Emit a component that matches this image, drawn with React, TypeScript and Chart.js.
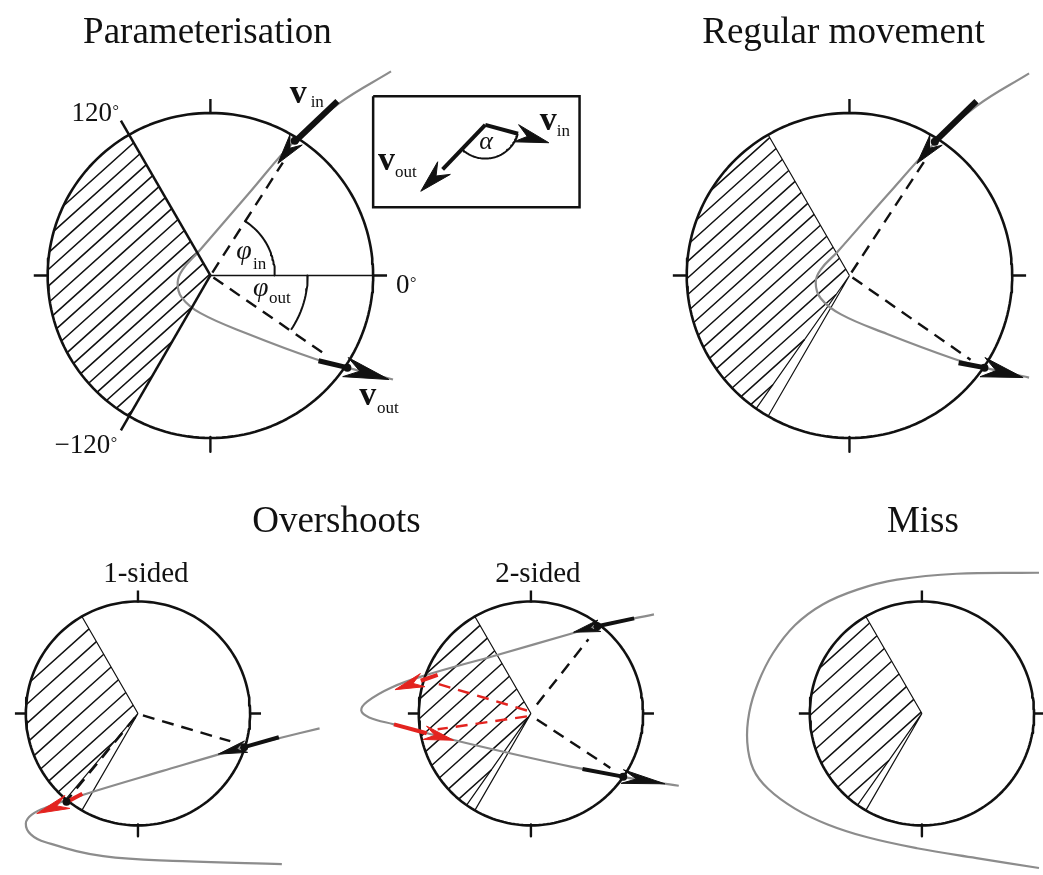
import React, { useEffect, useRef } from "react";
import { Chart, registerables } from "chart.js";

Chart.register(...registerables);

type P = [number, number];

const W = 1043;
const H = 875;
const FONT = '"Liberation Serif", "Times New Roman", Times, serif';
const INK = "#111111";
const GREY = "#8c8c8c";
const RED = "#e3231f";

// ---- circles (panel order: Parameterisation, Regular movement, 1-sided, 2-sided, Miss)
const CIRCLE_CX = [208, 852, 135, 531, 925];
const CIRCLE_CY = [274, 274, 716, 716, 716];
const CIRCLE_R = [164, 164, 113, 113, 113];
const TICK_LEN = [14, 14, 11, 11, 11];
const HATCH_FROM = [120, 120, 120, 120, 120];
const HATCH_TO = [240, 235, 230, 235, 235];
const EDGE_ANGLES: number[][] = [[], [120, 235, 240], [120, 230, 240], [120, 235, 240], [120, 235, 240]];
const HATCH_ANGLE = 42;
const HATCH_SPACING = [12.5, 12.5, 14.5, 14.5, 14.5];
const HATCH_WIDTH = [1.6, 1.5, 1.5, 1.5, 1.5];

// ---- trajectories (grey)
const PATH_PARAM: P[] = [[390, 68], [338, 100], [293, 138], [246, 192], [196, 250], [180, 268], [175, 281], [179, 296], [198, 312], [246, 333], [313, 358], [346, 367], [392, 379]];
const PATH_REGULAR: P[] = [[1033, 70], [980, 103], [939, 139], [890, 193], [840, 250], [823, 268], [818, 281], [823, 297], [843, 313], [890, 333], [957, 358], [988, 367], [1033, 377]];
const PATH_ONE_SIDED: P[] = [[318, 731], [277, 741], [242, 750], [160, 774], [80, 798], [45, 810], [28, 818], [22, 827], [27, 838], [42, 846], [100, 860], [180, 865], [280, 868]];
const PATH_TWO_SIDED: P[] = [[655, 616], [597, 628], [573, 635], [497, 657], [423, 678], [390, 690], [366, 704], [360, 713], [368, 720], [393, 727], [450, 742], [540, 763], [583, 772], [623, 780], [680, 789]];
const PATH_MISS: P[] = [[1043, 574], [960, 575], [900, 581], [860, 591], [825, 606], [797, 627], [775, 655], [760, 685], [751, 715], [749, 745], [755, 772], [770, 792], [797, 812], [830, 828], [870, 841], [920, 852], [980, 862], [1043, 872]];

// ---- arrows (shaft start, head base, head tip)
const ARROW_FROM: P[] = [[336, 98], [317, 360], [980, 98], [962, 362], [277, 740], [79, 797], [635, 620], [583, 772], [437, 677], [393, 727], [485, 122], [485, 122]];
const ARROW_BASE: P[] = [[293, 139], [346, 367], [938, 139], [988, 367], [242, 750], [62, 806], [598, 628], [625, 780], [420, 683], [426, 736], [518, 131], [442, 167]];
const ARROW_TIP: P[] = [[276, 161], [388, 379], [920, 161], [1027, 377], [216, 757], [33, 817], [574, 634], [666, 787], [394, 692], [453, 743], [549, 140], [420, 189]];
const ARROW_HALF_W = [8, 10, 8, 10, 6, 7, 6, 7, 7, 7, 9, 9];
const ARROW_SHAFT_W = [6, 5, 6, 5, 4, 4, 4, 4, 4, 4, 4, 4];
const ARROW_IS_RED = [false, false, false, false, false, true, false, false, true, true, false, false];

// ---- crossing dots
const DOT_X = [293, 346, 938, 988, 242, 63, 598, 624];
const DOT_Y = [138, 367, 139, 367, 750, 805, 628, 780];

// ---- dashed radii
const DASH_BLACK: [P, P][] = [
  [[210, 271], [281, 160]], [[211, 276], [327, 356]],
  [[854, 271], [928, 158]], [[855, 276], [974, 359]],
  [[140, 718], [228, 744]], [[132, 720], [64, 803]],
  [[537, 707], [589, 641]], [[537, 722], [611, 771]],
];
const DASH_RED: [P, P][] = [[[527, 713], [437, 686]], [[527, 719], [437, 732]]];

// ---- parameterisation extras
const BOUNDARY_ANGLES = [120, 240];
const BOUNDARY_REACH = 1.1;
const ZERO_LINE: P[] = [[208, 274], [373, 274]];
const PHI_IN_ARC = [65, 0, 58];
const PHI_OUT_ARC = [98, 0, -34];
const INSET_RECT = [372, 93, 580, 205];
const ALPHA_ARC = [485, 122, 34, -16, -135];

// ---- texts
const TITLE_TEXTS = ["Parameterisation", "Regular movement", "Overshoots", "Miss", "1-sided", "2-sided"];
const TITLE_X = [205, 846, 335, 926, 143, 538];
const TITLE_Y = [39, 39, 533, 533, 583, 583];
const TITLE_SIZE = [37, 37, 37, 37, 29, 29];
const DEG_TEXTS = ["120", "\u2212120", "0"];
const DEG_X = [68, 51, 395];
const DEG_Y = [118, 453, 292];
const DEG_SIGN_DY = [-5, -5, -5];
const VEC_SUB = ["in", "out", "in", "out"];
const VEC_X = [288, 358, 540, 377];
const VEC_Y = [100, 405, 127, 168];
const VEC_SUB_X = [309, 376, 557, 394];
const VEC_SUB_Y = [104, 413, 133, 175];
const GREEK_TEXTS = ["\u03C6", "\u03C6", "\u03B1"];
const GREEK_X = [234, 251, 479];
const GREEK_Y = [257, 295, 146];
const GREEK_SIZE = [28, 28, 26];
const GREEK_SUB = ["in", "out", ""];
const GREEK_SUB_X = [251, 267, 0];
const GREEK_SUB_Y = [267, 302, 0];

// ---------------- geometry helpers ----------------
const rad = (d: number) => (d * Math.PI) / 180;
const onCircle = (cx: number, cy: number, r: number, a: number): P => [cx + r * Math.cos(rad(a)), cy - r * Math.sin(rad(a))];
function arc(cx: number, cy: number, r: number, a0: number, a1: number): P[] {
  const n = Math.max(6, Math.ceil(Math.abs(a1 - a0) / 2));
  const out: P[] = [];
  for (let i = 0; i <= n; i++) out.push(onCircle(cx, cy, r, a0 + ((a1 - a0) * i) / n));
  return out;
}
function hatch(poly: P[], angle: number, spacing: number) {
  const t = rad(angle);
  const d: P = [Math.cos(t), -Math.sin(t)];
  const nr: P = [Math.sin(t), Math.cos(t)];
  const s = poly.map((p) => p[0] * nr[0] + p[1] * nr[1]);
  const smin = Math.min(...s), smax = Math.max(...s);
  const out: any[] = [];
  for (let c = Math.ceil(smin / spacing) * spacing + 4; c <= smax; c += spacing) {
    const hits: P[] = [];
    for (let i = 0; i < poly.length; i++) {
      const j = (i + 1) % poly.length;
      if ((s[i] - c) * (s[j] - c) < 0) {
        const f = (c - s[i]) / (s[j] - s[i]);
        hits.push([poly[i][0] + f * (poly[j][0] - poly[i][0]), poly[i][1] + f * (poly[j][1] - poly[i][1])]);
      }
    }
    if (hits.length >= 2) {
      hits.sort((a, b) => a[0] * d[0] + a[1] * d[1] - (b[0] * d[0] + b[1] * d[1]));
      const a = hits[0], b = hits[hits.length - 1];
      out.push({ x: a[0], y: a[1] }, { x: b[0], y: b[1] }, { x: b[0], y: null });
    }
  }
  return out;
}
function head(base: P, tip: P, hw: number): P[] {
  const dx = tip[0] - base[0], dy = tip[1] - base[1];
  const L = Math.hypot(dx, dy);
  const ux = dx / L, uy = dy / L, px = -uy, py = ux;
  return [tip, [base[0] + px * hw - ux * 2, base[1] + py * hw - uy * 2], [base[0] + ux * L * 0.3, base[1] + uy * L * 0.3], [base[0] - px * hw - ux * 2, base[1] - py * hw - uy * 2], tip];
}

function buildDatasets() {
  const layers: any[] = [];
  const pts = (a: P[]) => a.map((p) => ({ x: p[0], y: p[1] }));
  const add = (data: any[], color: string, width: number, extra: any = {}) =>
    layers.push({ data, borderColor: color, backgroundColor: color, borderWidth: width, pointRadius: 0, pointHoverRadius: 0, fill: false, tension: 0, clip: false, borderCapStyle: "butt", borderJoinStyle: "round", ...extra });

  // hatching
  CIRCLE_CX.forEach((cx, i) => {
    const poly: P[] = [[cx, CIRCLE_CY[i]], ...arc(cx, CIRCLE_CY[i], CIRCLE_R[i], HATCH_FROM[i], HATCH_TO[i])];
    add(hatch(poly, HATCH_ANGLE, HATCH_SPACING[i]), INK, HATCH_WIDTH[i]);
    const edges: any[] = [];
    EDGE_ANGLES[i].forEach((a) => {
      const e = onCircle(cx, CIRCLE_CY[i], CIRCLE_R[i], a);
      edges.push({ x: cx, y: CIRCLE_CY[i] }, { x: e[0], y: e[1] }, { x: e[0], y: null });
    });
    if (edges.length) add(edges, INK, 1.2);
  });

  // grey trajectories
  [PATH_PARAM, PATH_REGULAR, PATH_ONE_SIDED, PATH_TWO_SIDED, PATH_MISS].forEach((p) => add(pts(p), GREY, 2.2, { tension: 0.4 }));

  // circles and ticks
  CIRCLE_CX.forEach((cx, i) => {
    const cy = CIRCLE_CY[i], r = CIRCLE_R[i];
    add(pts(arc(cx, cy, r, 0, 360)), INK, 2.6);
    const ticks: any[] = [];
    [0, 90, 180, 270].forEach((a) => {
      const p0 = onCircle(cx, cy, r - 1, a), p1 = onCircle(cx, cy, r + TICK_LEN[i], a);
      ticks.push({ x: p0[0], y: p0[1] }, { x: p1[0], y: p1[1] }, { x: p1[0], y: null });
    });
    add(ticks, INK, 2.4);
  });

  // parameterisation extras
  BOUNDARY_ANGLES.forEach((a) => add(pts([[CIRCLE_CX[0], CIRCLE_CY[0]], onCircle(CIRCLE_CX[0], CIRCLE_CY[0], CIRCLE_R[0] * BOUNDARY_REACH, a)]), INK, 2.5));
  add(pts(ZERO_LINE), INK, 1.3);
  add(pts(arc(CIRCLE_CX[0], CIRCLE_CY[0], PHI_IN_ARC[0], PHI_IN_ARC[1], PHI_IN_ARC[2])), INK, 2);
  add(pts(arc(CIRCLE_CX[0], CIRCLE_CY[0], PHI_OUT_ARC[0], PHI_OUT_ARC[1], PHI_OUT_ARC[2])), INK, 2);
  const [rx0, ry0, rx1, ry1] = INSET_RECT;
  add(pts([[rx0, ry0], [rx1, ry0], [rx1, ry1], [rx0, ry1], [rx0, ry0]]), INK, 2.5, { borderJoinStyle: "miter" });
  add(pts(arc(ALPHA_ARC[0], ALPHA_ARC[1], ALPHA_ARC[2], ALPHA_ARC[3], ALPHA_ARC[4])), INK, 2);

  // dashed radii
  DASH_BLACK.forEach((s) => add(pts(s), INK, 2.4, { borderDash: [12, 8] }));
  DASH_RED.forEach((s) => add(pts(s), RED, 2.4, { borderDash: [12, 8] }));

  // arrows
  ARROW_FROM.forEach((f, i) => {
    const col = ARROW_IS_RED[i] ? RED : INK;
    add(pts([f, ARROW_BASE[i]]), col, ARROW_SHAFT_W[i]);
    add(pts(head(ARROW_BASE[i], ARROW_TIP[i], ARROW_HALF_W[i])), col, 1, { fill: "shape", borderJoinStyle: "miter" });
  });

  // dots
  layers.push({ data: DOT_X.map((x, i) => ({ x, y: DOT_Y[i] })), showLine: false, pointRadius: 4, pointBackgroundColor: INK, pointBorderWidth: 0, clip: false });

  return layers.reverse();
}

const textPlugin = {
  id: "diagramText",
  afterDraw(chart: any) {
    const { ctx } = chart;
    const X = (v: number) => chart.scales.x.getPixelForValue(v);
    const Y = (v: number) => chart.scales.y.getPixelForValue(v);
    ctx.save();
    ctx.fillStyle = INK;
    ctx.textBaseline = "alphabetic";
    ctx.textAlign = "center";
    TITLE_TEXTS.forEach((t, i) => {
      ctx.font = `${TITLE_SIZE[i]}px ${FONT}`;
      ctx.fillText(t, X(TITLE_X[i]), Y(TITLE_Y[i]));
    });
    ctx.textAlign = "left";
    DEG_TEXTS.forEach((t, i) => {
      ctx.font = `27px ${FONT}`;
      ctx.fillText(t, X(DEG_X[i]), Y(DEG_Y[i]));
      const w = ctx.measureText(t).width;
      ctx.font = `16px ${FONT}`;
      ctx.fillText("\u00B0", X(DEG_X[i]) + w + 0.5, Y(DEG_Y[i] + DEG_SIGN_DY[i]));
    });
    VEC_SUB.forEach((s, i) => {
      ctx.font = `bold 34px ${FONT}`;
      ctx.fillText("v", X(VEC_X[i]), Y(VEC_Y[i]));
      ctx.font = `17px ${FONT}`;
      ctx.fillText(s, X(VEC_SUB_X[i]), Y(VEC_SUB_Y[i]));
    });
    GREEK_TEXTS.forEach((g, i) => {
      ctx.font = `italic ${GREEK_SIZE[i]}px ${FONT}`;
      ctx.fillText(g, X(GREEK_X[i]), Y(GREEK_Y[i]));
      if (GREEK_SUB[i]) {
        ctx.font = `17px ${FONT}`;
        ctx.fillText(GREEK_SUB[i], X(GREEK_SUB_X[i]), Y(GREEK_SUB_Y[i]));
      }
    });
    ctx.restore();
  },
};

export default function App() {
  const ref = useRef<HTMLCanvasElement>(null);
  useEffect(() => {
    const chart = new Chart(ref.current as HTMLCanvasElement, {
      type: "line",
      data: { datasets: buildDatasets() },
      options: {
        responsive: false,
        animation: false,
        devicePixelRatio: 1,
        events: [],
        layout: { padding: 0 },
        plugins: { legend: { display: false }, tooltip: { enabled: false }, title: { display: false } },
        scales: {
          x: { type: "linear", min: 0, max: W, display: false },
          y: { type: "linear", min: 0, max: H, reverse: true, display: false },
        },
      },
      plugins: [textPlugin],
    } as any);
    return () => chart.destroy();
  }, []);
  return (
    <div style={{ position: "absolute", left: 0, top: 0, width: W, height: H, background: "#fff" }}>
      <canvas ref={ref} width={W} height={H} style={{ display: "block", width: W, height: H }} />
    </div>
  );
}
